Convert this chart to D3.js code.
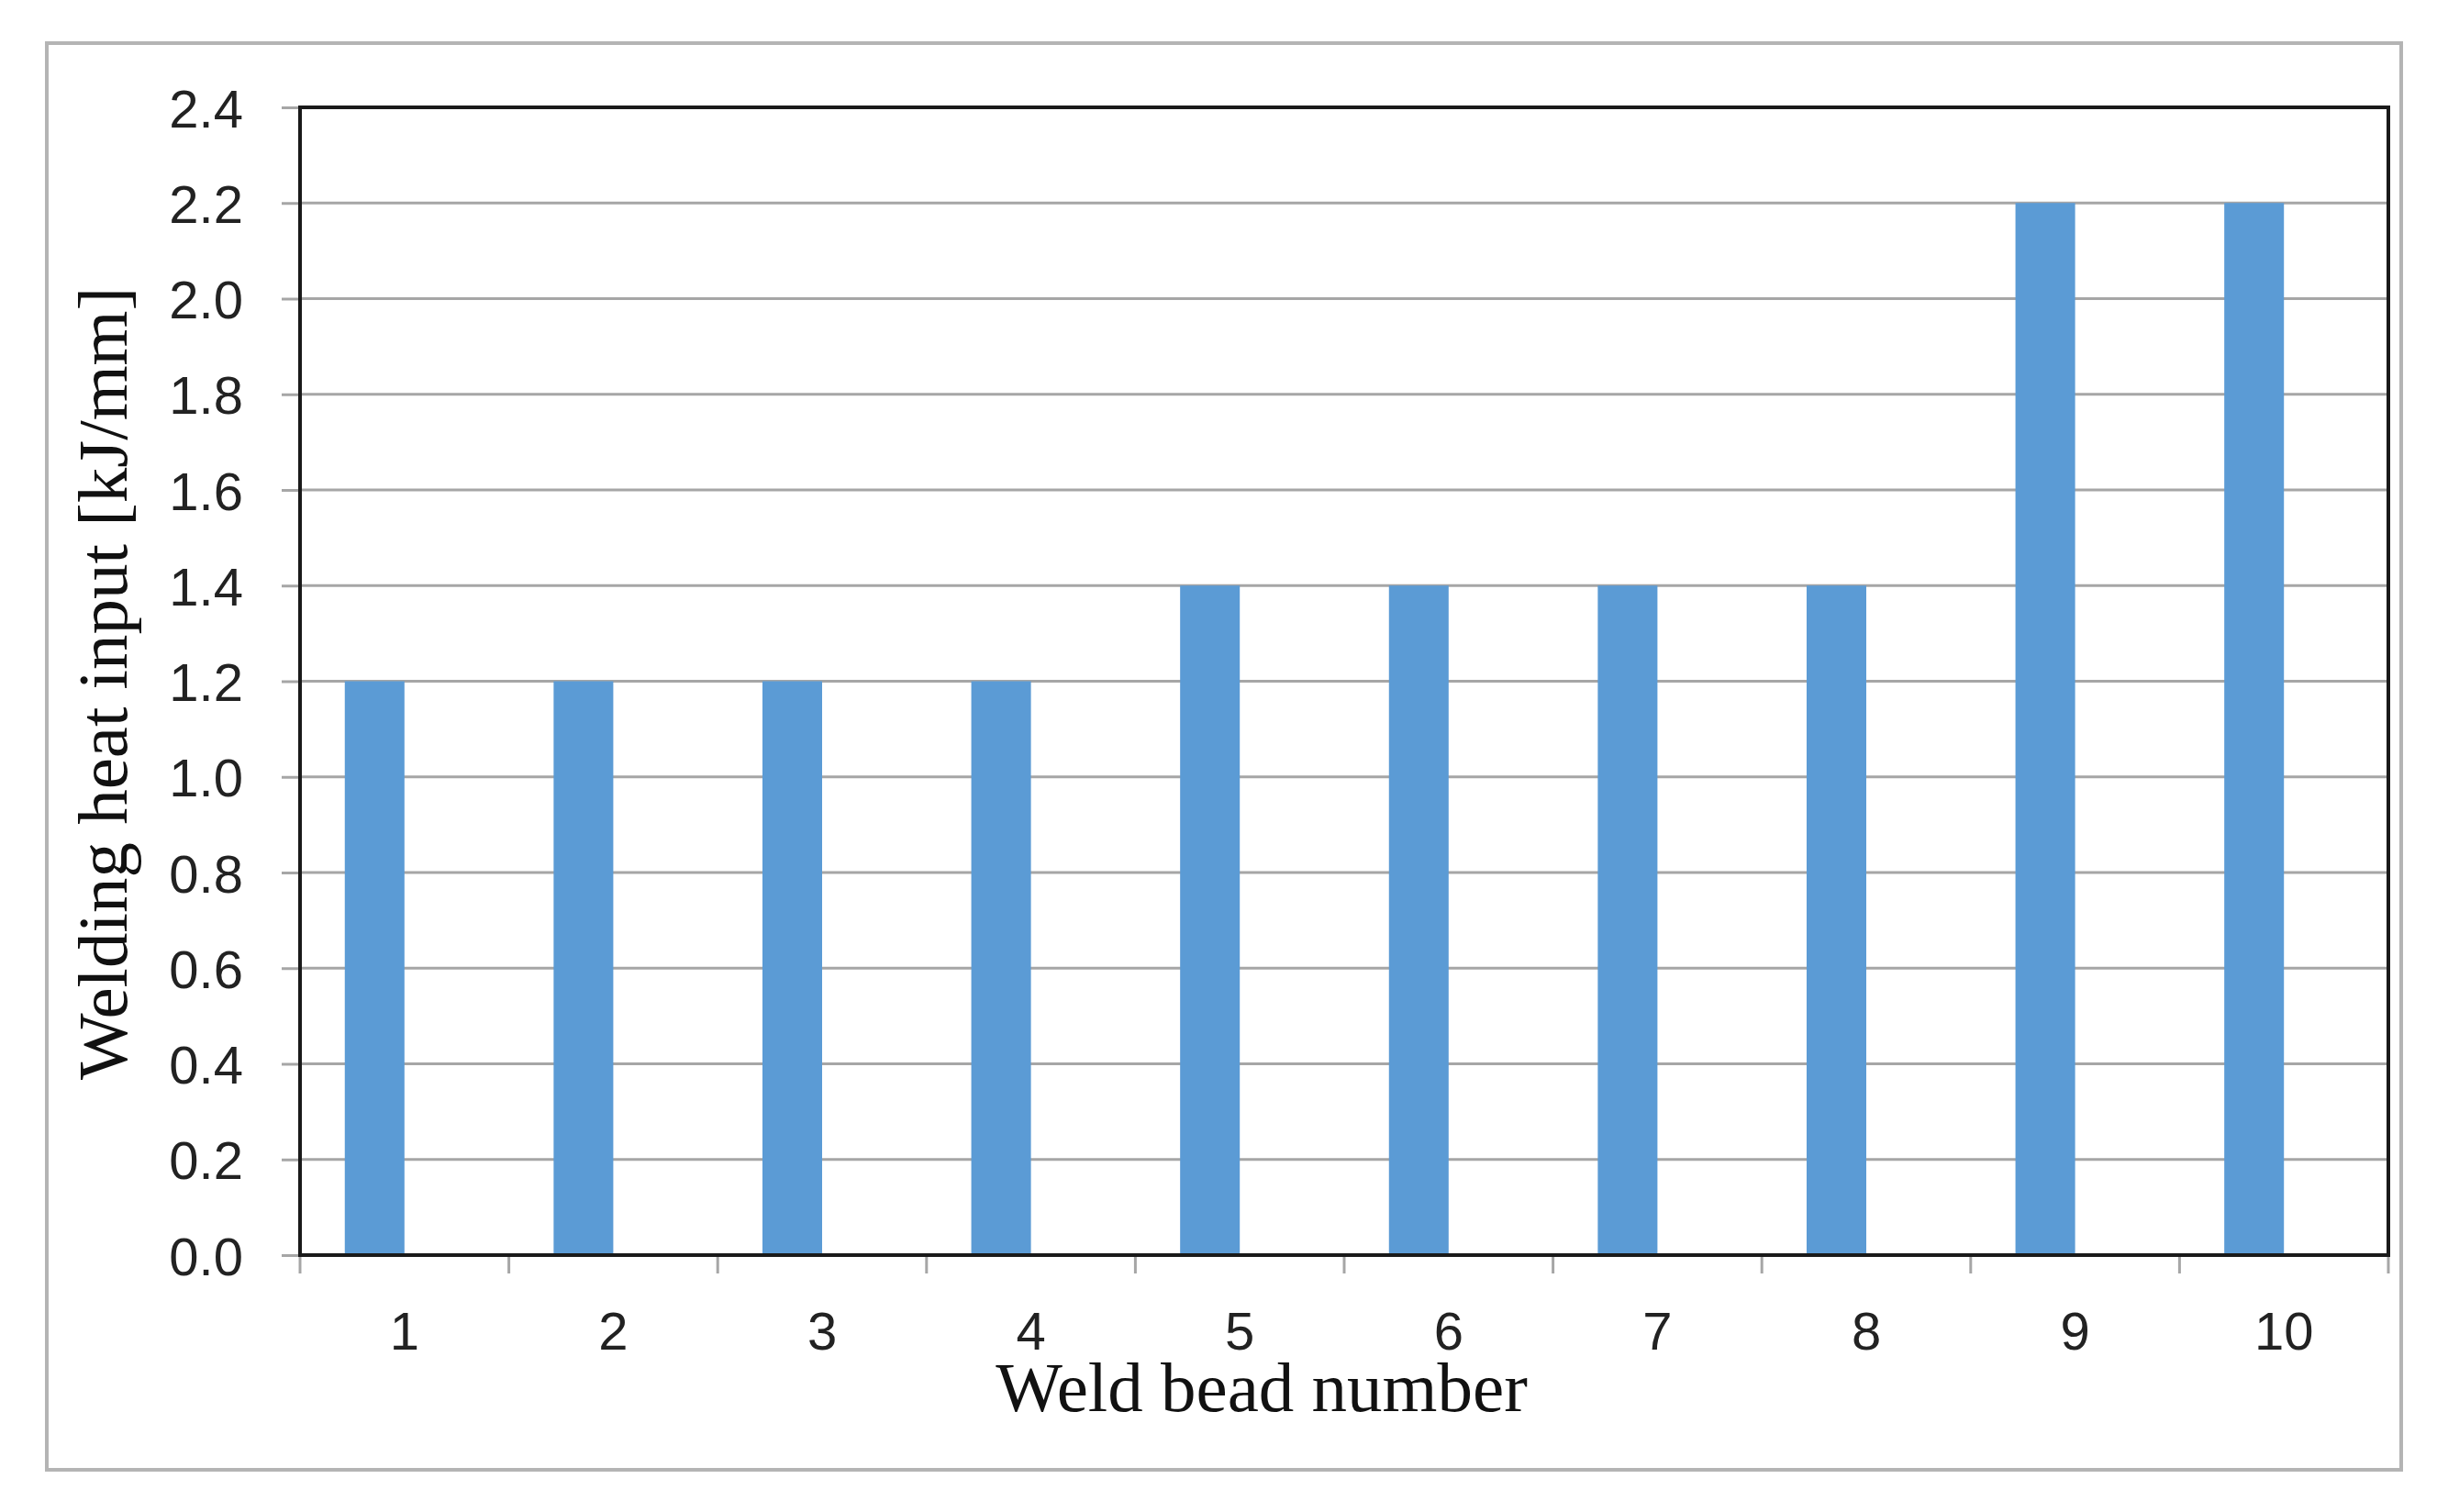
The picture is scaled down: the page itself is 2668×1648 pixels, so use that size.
<!DOCTYPE html>
<html>
<head>
<meta charset="utf-8">
<script src="https://cdn.jsdelivr.net/npm/d3@7"></script>
<style>
html, body { margin: 0; padding: 0; background: #fff; }
svg { display: block; }
</style>
</head>
<body>
<script>
const categories = ["1", "2", "3", "4", "5", "6", "7", "8", "9", "10"];
const heatInput = [1.2, 1.2, 1.2, 1.2, 1.4, 1.4, 1.4, 1.4, 2.2, 2.2];
const yTicks = [0.0, 0.2, 0.4, 0.6, 0.8, 1.0, 1.2, 1.4, 1.6, 1.8, 2.0, 2.2, 2.4];
const xTitle = "Weld bead number";
const yTitle = "Welding heat input [kJ/mm]";

const W = 2668, H = 1648;
const plot = { left: 327, right: 2603, top: 117, bottom: 1368 };

const svg = d3.select("body").append("svg").attr("width", W).attr("height", H);

// outer frame
svg.append("rect").attr("x", 51).attr("y", 47).attr("width", 2617 - 51).attr("height", 1602 - 47)
  .attr("fill", "#fff").attr("stroke", "#b4b4b4").attr("stroke-width", 4);

const x = d3.scaleBand().domain(categories).range([plot.left, plot.right]).paddingInner(0).paddingOuter(0);
const y = d3.scaleLinear().domain([0, 2.4]).range([plot.bottom, plot.top]);

// gridlines
svg.append("g").selectAll("line").data(yTicks.filter(d => d > 0 && d < 2.4)).join("line")
  .attr("x1", plot.left).attr("x2", plot.right)
  .attr("y1", d => y(d)).attr("y2", d => y(d))
  .attr("stroke", "#a6a6a6").attr("stroke-width", 3);

// bars (first series of a two-series cluster, gap width 150%)
const barW = x.bandwidth() / 3.5;
svg.append("g").selectAll("rect").data(heatInput).join("rect")
  .attr("x", (d, i) => x(categories[i]) + x.bandwidth() / 2 - barW)
  .attr("width", barW)
  .attr("y", d => y(d))
  .attr("height", d => y(0) - y(d))
  .attr("fill", "#5b9bd5");

// y axis
const yAxis = d3.axisLeft(y).tickValues(yTicks).tickFormat(d3.format(".1f")).tickSize(20).tickPadding(0);
const gy = svg.append("g").attr("transform", `translate(${plot.left},0)`).call(yAxis);
gy.select(".domain").remove();
gy.selectAll(".tick line").attr("stroke", "#a6a6a6").attr("stroke-width", 3);
gy.selectAll(".tick text")
  .attr("x", -62).attr("dy", null).attr("y", 21)
  .attr("font-family", "'Liberation Sans', Arial, sans-serif").attr("font-size", 58).attr("fill", "#222");

// x axis
const xAxis = d3.axisBottom(x).tickSize(0).tickPadding(0);
const gx = svg.append("g").attr("transform", `translate(0,${plot.bottom})`).call(xAxis);
gx.select(".domain").remove();
gx.selectAll(".tick text")
  .attr("y", 103).attr("dy", null)
  .attr("font-family", "'Liberation Sans', Arial, sans-serif").attr("font-size", 58).attr("fill", "#222");
// category boundary ticks
const bounds = categories.map(c => x(c)).concat([plot.right]);
svg.append("g").selectAll("line").data(bounds).join("line")
  .attr("x1", d => d).attr("x2", d => d)
  .attr("y1", plot.bottom).attr("y2", plot.bottom + 20)
  .attr("stroke", "#a6a6a6").attr("stroke-width", 3);

// plot frame
svg.append("rect").attr("x", plot.left).attr("y", plot.top)
  .attr("width", plot.right - plot.left).attr("height", plot.bottom - plot.top)
  .attr("fill", "none").attr("stroke", "#1a1a1a").attr("stroke-width", 4);

// titles
svg.append("text").attr("x", 1375).attr("y", 1538).attr("text-anchor", "middle")
  .attr("font-family", "'Liberation Serif', 'Times New Roman', serif").attr("font-size", 77).attr("fill", "#111")
  .text(xTitle);
svg.append("text").attr("transform", "translate(138,745) rotate(-90)").attr("text-anchor", "middle")
  .attr("font-family", "'Liberation Serif', 'Times New Roman', serif").attr("font-size", 77).attr("fill", "#111")
  .text(yTitle);
</script>
</body>
</html>
